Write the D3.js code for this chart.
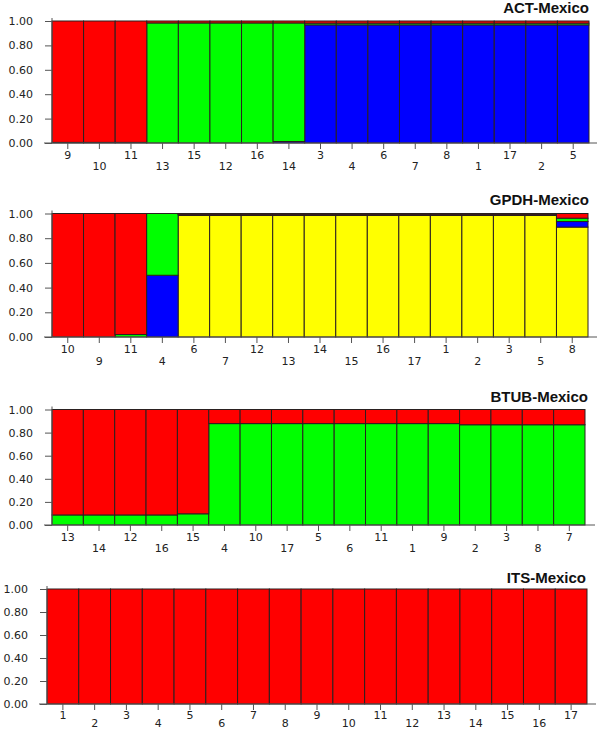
<!DOCTYPE html>
<html>
<head>
<meta charset="utf-8">
<script src="https://cdn.jsdelivr.net/npm/d3@7"></script>
<style>
html,body{margin:0;padding:0;background:#fff;}
svg{display:block;}
</style>
</head>
<body>
<svg id="chart" width="600" height="730"></svg>
<script>
// ---- Data ----
const yTicks = [0, 0.2, 0.4, 0.6, 0.8, 1.0];
const clusterKeys = ["yellow", "blue", "green", "red"];   // stacking order bottom -> top
const clusterColors = ["#ffff00", "#0000ff", "#00ff00", "#ff0000"];

const actTitle = "ACT-Mexico";
const actLabels = ["9","10","11","13","15","12","16","14","3","4","6","7","8","1","17","2","5"];
const actYellow = [0,0,0,0,0,0,0,0,0,0,0,0,0,0,0,0,0];
const actBlue   = [0.005,0.005,0.005,0,0,0,0,0.012,0.968,0.968,0.968,0.968,0.968,0.968,0.968,0.968,0.968];
const actGreen  = [0,0,0,0.984,0.984,0.984,0.984,0.972,0.014,0.014,0.014,0.014,0.014,0.014,0.014,0.014,0.014];
const actRed    = [0.995,0.995,0.995,0.016,0.016,0.016,0.016,0.016,0.018,0.018,0.018,0.018,0.018,0.018,0.018,0.018,0.018];

const gpdhTitle = "GPDH-Mexico";
const gpdhLabels = ["10","9","11","4","6","7","12","13","14","15","16","17","1","2","3","5","8"];
const gpdhYellow = [0,0,0,0,0.984,0.984,0.984,0.984,0.984,0.984,0.984,0.984,0.984,0.984,0.984,0.984,0.89];
const gpdhBlue   = [0,0,0,0.5,0.005,0.005,0.005,0.005,0.005,0.005,0.005,0.005,0.005,0.005,0.005,0.005,0.045];
const gpdhGreen  = [0,0,0.02,0.5,0.005,0.005,0.005,0.005,0.005,0.005,0.005,0.005,0.005,0.005,0.005,0.005,0.027];
const gpdhRed    = [1,1,0.98,0,0.006,0.006,0.006,0.006,0.006,0.006,0.006,0.006,0.006,0.006,0.006,0.006,0.038];

const btubTitle = "BTUB-Mexico";
const btubLabels = ["13","14","12","16","15","4","10","17","5","6","11","1","9","2","3","8","7"];
const btubYellow = [0,0,0,0,0,0,0,0,0,0,0,0,0,0,0,0,0];
const btubBlue   = [0,0,0,0,0,0,0,0,0,0,0,0,0,0,0,0,0];
const btubGreen  = [0.087,0.087,0.087,0.087,0.097,0.878,0.878,0.878,0.878,0.878,0.878,0.878,0.878,0.868,0.868,0.868,0.868];
const btubRed    = [0.913,0.913,0.913,0.913,0.903,0.122,0.122,0.122,0.122,0.122,0.122,0.122,0.122,0.132,0.132,0.132,0.132];

const itsTitle = "ITS-Mexico";
const itsLabels = ["1","2","3","4","5","6","7","8","9","10","11","12","13","14","15","16","17"];
const itsYellow = [0,0,0,0,0,0,0,0,0,0,0,0,0,0,0,0,0];
const itsBlue   = [0,0,0,0,0,0,0,0,0,0,0,0,0,0,0,0,0];
const itsGreen  = [0,0,0,0,0,0,0,0,0,0,0,0,0,0,0,0,0];
const itsRed    = [1,1,1,1,1,1,1,1,1,1,1,1,1,1,1,1,1];

// ---- Layout of panels ----
const panels = [
  {title: actTitle,  labels: actLabels,  series: [actYellow, actBlue, actGreen, actRed],
   x0: 52, x1: 589, yTop: 21, yBot: 143, axisEnd: 597, titleX: 589, titleY: 13, rowY: [12.5, 23.5]},
  {title: gpdhTitle, labels: gpdhLabels, series: [gpdhYellow, gpdhBlue, gpdhGreen, gpdhRed],
   x0: 52, x1: 588, yTop: 213.5, yBot: 337, axisEnd: 597, titleX: 589, titleY: 205, rowY: [12.5, 24]},
  {title: btubTitle, labels: btubLabels, series: [btubYellow, btubBlue, btubGreen, btubRed],
   x0: 52, x1: 585, yTop: 409.5, yBot: 525, axisEnd: 595, titleX: 588, titleY: 402, rowY: [12, 23]},
  {title: itsTitle,  labels: itsLabels,  series: [itsYellow, itsBlue, itsGreen, itsRed],
   x0: 47, x1: 587, yTop: 589, yBot: 704, axisEnd: 596, titleX: 586, titleY: 583, rowY: [11, 19.5]}
];

const svg = d3.select("#chart");
const color = d3.scaleOrdinal().domain(clusterKeys).range(clusterColors);
const axisColor = "#555";
const tickFont = "DejaVu Sans, Verdana, sans-serif";

panels.forEach(p => {
  const g = svg.append("g");
  const rows = p.labels.map((lab, i) => {
    const o = {label: lab};
    clusterKeys.forEach((k, j) => o[k] = p.series[j][i]);
    return o;
  });
  const x = d3.scaleBand().domain(p.labels).range([p.x0, p.x1]).padding(0);
  const y = d3.scaleLinear().domain([0, 1]).range([p.yBot, p.yTop]);
  const stacked = d3.stack().keys(clusterKeys)(rows);

  // bars
  stacked.forEach(layer => {
    g.append("g").selectAll("rect")
      .data(layer.filter(d => d[1] - d[0] > 0))
      .join("rect")
      .attr("x", d => x(d.data.label))
      .attr("width", x.bandwidth())
      .attr("y", d => y(d[1]))
      .attr("height", d => y(d[0]) - y(d[1]))
      .attr("fill", color(layer.key))
      .attr("stroke", "#2a2020")
      .attr("stroke-width", 1);
  });

  // y axis
  const ya = g.append("g")
    .attr("transform", `translate(${p.x0},0)`)
    .call(d3.axisLeft(y).tickValues(yTicks).tickFormat(d3.format(".2f")).tickSize(7).tickPadding(12));
  ya.select(".domain").remove();
  ya.selectAll("line").attr("stroke", axisColor);
  ya.selectAll("text").attr("font-family", tickFont).attr("font-size", 11).attr("fill", "#222");
  g.append("line").attr("x1", p.x0).attr("x2", p.x0).attr("y1", p.yTop - 3).attr("y2", p.yBot)
    .attr("stroke", axisColor);

  // x axis
  const xa = g.append("g")
    .attr("transform", `translate(0,${p.yBot})`)
    .call(d3.axisBottom(x).tickSize(6).tickPadding(3));
  xa.select(".domain").remove();
  xa.selectAll("line").attr("stroke", axisColor);
  xa.selectAll("text")
    .attr("font-family", tickFont).attr("font-size", 11).attr("fill", "#222")
    .attr("dy", null)
    .attr("dominant-baseline", "central")
    .attr("y", (d, i) => p.rowY[i % 2]);
  g.append("line").attr("x1", p.x0 - 8).attr("x2", p.axisEnd).attr("y1", p.yBot).attr("y2", p.yBot)
    .attr("stroke", axisColor);

  // title
  g.append("text")
    .attr("x", p.titleX).attr("y", p.titleY)
    .attr("text-anchor", "end")
    .attr("font-family", "Liberation Sans, Arial, sans-serif")
    .attr("font-weight", "bold")
    .attr("font-size", 15)
    .attr("fill", "#111")
    .text(p.title);
});
</script>
</body>
</html>
